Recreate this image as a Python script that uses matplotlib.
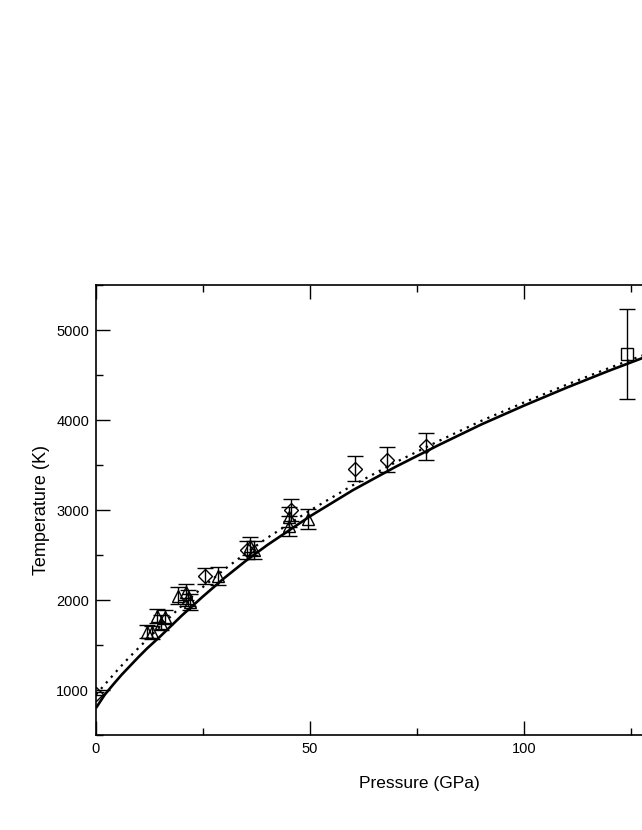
import numpy as np
import matplotlib
matplotlib.use("Agg")
import matplotlib.pyplot as plt
from matplotlib.ticker import MultipleLocator, FixedLocator

plt.rcParams['font.family'] = ['Liberation Sans', 'DejaVu Sans']

# melting curves (pressure in GPa, temperature in K)
solid_p = [0, 2, 4, 6, 8, 10, 12, 15, 20, 25, 30, 35, 40, 50, 60, 70, 80, 90, 100, 110, 120, 130]
solid_t = [800, 945, 1060, 1170, 1270, 1370, 1465, 1595, 1825, 2040, 2245, 2435, 2610, 2930,
           3220, 3480, 3720, 3950, 4160, 4360, 4550, 4730]

dot_p = [0, 2.5, 5, 7.5, 10, 15, 20, 25, 30, 35, 40, 50, 60, 70, 80, 90, 100, 110, 120, 130]
dot_t = [950, 1085, 1220, 1350, 1470, 1705, 1935, 2145, 2340, 2520, 2690, 2995, 3275, 3530,
         3765, 3990, 4195, 4393, 4580, 4758]

# measurements
diam_p = [0, 25.5, 35.2, 45.5, 60.5, 68, 77]
diam_t = [960, 2270, 2560, 3000, 3460, 3560, 3710]
diam_err = [20, 90, 100, 120, 140, 140, 150]

tri_p = [12, 13, 14.2, 15.3, 16.1, 19.2, 21, 21.5, 22, 28.5, 36, 37, 45, 45, 49.5]
tri_t = [1650, 1640, 1820, 1750, 1810, 2050, 2090, 2020, 1980, 2270, 2600, 2560, 2920, 2820, 2900]
tri_err = [70, 70, 80, 80, 80, 90, 90, 90, 90, 100, 100, 100, 110, 110, 110]

sq_p = [124]
sq_t = [4730]
sq_err = [500]

x_major = [0, 50, 100]
x_minor = [25, 75, 125]

fig = plt.figure(figsize=(6.42, 8.30), dpi=100)
# axes runs past the right edge of the figure, as in the reference
ax = fig.add_axes([96 / 642, 95 / 830, 642 / 642, 450 / 830])

ax.plot(solid_p, solid_t, color='black', lw=1.9, solid_capstyle='butt')
ax.plot(dot_p, dot_t, color='black', lw=1.6, linestyle=(0, (1, 2.4)))

ebkw = dict(ls='none', color='black', ecolor='black', elinewidth=1.0, capsize=6,
            capthick=1.0, mfc='none', mec='black', mew=1.0)
ax.errorbar(diam_p, diam_t, yerr=diam_err, fmt='D', ms=7.5, **ebkw)
ax.errorbar(tri_p, tri_t, yerr=tri_err, fmt='^', ms=9, **ebkw)
ax.errorbar(sq_p, sq_t, yerr=sq_err, fmt='s', ms=8, **ebkw)

ax.set_xlim(0, 150)
ax.set_ylim(500, 5500)
ax.xaxis.set_major_locator(FixedLocator(x_major))
ax.xaxis.set_minor_locator(FixedLocator(x_minor))
ax.yaxis.set_major_locator(MultipleLocator(1000))
ax.yaxis.set_minor_locator(MultipleLocator(500))
ax.tick_params(which='both', direction='in', top=True, right=True, width=1.0)
ax.tick_params(which='major', length=10, labelsize=10.5, pad=5)
ax.tick_params(which='minor', length=5)
for s in ax.spines.values():
    s.set_linewidth(1.2)

ax.set_xlabel('Pressure (GPa)', fontsize=12.5)
ax.set_ylabel('Temperature (K)', fontsize=13)
ax.xaxis.set_label_coords((419 - 96) / 642, -0.092)
ax.yaxis.set_label_coords(-0.071, 0.5)

fig.savefig('out.png', dpi=100)
